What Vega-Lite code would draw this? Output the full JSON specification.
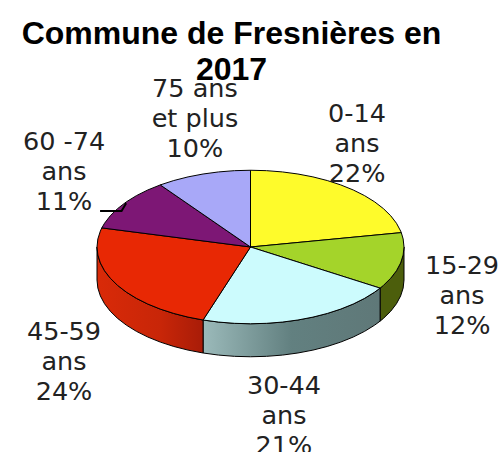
{"$schema":"https://vega.github.io/schema/vega-lite/v6.json","width":503,"height":452,"padding":0,"autosize":"none","background":"white","title":{"text":["Commune de Fresnières en","2017"],"font":"Liberation Sans","fontSize":32,"fontWeight":"bold","color":"#000000","anchor":"middle","baseline":"top","dx":-20,"dy":87,"lineHeight":36,"offset":0},"projection":{"type":"identity","reflectY":true,"scale":1.535,"translate":[250.5,247]},"layer":[
{"data":{"values":{"type":"FeatureCollection","features":[{"type":"Feature","properties":{"tranche":"15-29 ans"},"geometry":{"type":"Polygon","coordinates":[[[100,0],[99.45,-5.23],[97.81,-10.4],[95.11,-15.45],[91.35,-20.34],[86.6,-25],[84.43,-26.79],[84.43,-48.29],[86.6,-46.5],[91.35,-41.84],[95.11,-36.95],[97.81,-31.9],[99.45,-26.73],[100,-21.5],[100,0]]]}}]},"format":{"type":"json","property":"features"}},"mark":{"type":"geoshape","fill":"#4c5e0c","stroke":"#000000","strokeWidth":1}},
{"data":{"values":{"type":"FeatureCollection","features":[{"type":"Feature","properties":{"tranche":"30-44 ans"},"geometry":{"type":"Polygon","coordinates":[[[84.43,-26.79],[80.9,-29.39],[74.31,-33.46],[66.91,-37.16],[58.78,-40.45],[50,-43.3],[40.67,-45.68],[30.9,-47.55],[20.79,-48.91],[10.45,-49.73],[0,-50],[-10.45,-49.73],[-20.79,-48.91],[-30.9,-47.55],[-30.9,-69.05],[-20.79,-70.41],[-10.45,-71.23],[0,-71.5],[10.45,-71.23],[20.79,-70.41],[30.9,-69.05],[40.67,-67.18],[50,-64.8],[58.78,-61.95],[66.91,-58.66],[74.31,-54.96],[80.9,-50.89],[84.43,-48.29],[84.43,-26.79]]]}}]},"format":{"type":"json","property":"features"}},"mark":{"type":"geoshape","stroke":"#000000","strokeWidth":1,"fill":{"gradient":"linear","x1":0,"y1":0,"x2":1,"y2":0,"stops":[{"offset":0,"color":"#9bbaba"},{"offset":0.5,"color":"#628080"},{"offset":1,"color":"#5f7878"}]}}},
{"data":{"values":{"type":"FeatureCollection","features":[{"type":"Feature","properties":{"tranche":"45-59 ans"},"geometry":{"type":"Polygon","coordinates":[[[-30.9,-47.55],[-40.67,-45.68],[-50,-43.3],[-58.78,-40.45],[-66.91,-37.16],[-74.31,-33.46],[-80.9,-29.39],[-86.6,-25],[-91.35,-20.34],[-95.11,-15.45],[-97.81,-10.4],[-99.45,-5.23],[-100,0],[-100,-21.5],[-99.45,-26.73],[-97.81,-31.9],[-95.11,-36.95],[-91.35,-41.84],[-86.6,-46.5],[-80.9,-50.89],[-74.31,-54.96],[-66.91,-58.66],[-58.78,-61.95],[-50,-64.8],[-40.67,-67.18],[-30.9,-69.05],[-30.9,-47.55]]]}}]},"format":{"type":"json","property":"features"}},"mark":{"type":"geoshape","stroke":"#000000","strokeWidth":1,"fill":{"gradient":"linear","x1":0,"y1":0,"x2":1,"y2":0,"stops":[{"offset":0,"color":"#d92a08"},{"offset":0.6,"color":"#c82608"},{"offset":1,"color":"#a81c08"}]}}},
{"data":{"values":{"type":"FeatureCollection","features":[
{"type":"Feature","properties":{"tranche":"0-14 ans","part":22},"geometry":{"type":"Polygon","coordinates":[[[0,0],[0,50],[10.45,49.73],[20.79,48.91],[30.9,47.55],[40.67,45.68],[50,43.3],[58.78,40.45],[66.91,37.16],[74.31,33.46],[80.9,29.39],[86.6,25],[91.35,20.34],[95.11,15.45],[97.81,10.4],[98.23,9.37],[0,0]]]}},
{"type":"Feature","properties":{"tranche":"15-29 ans","part":12},"geometry":{"type":"Polygon","coordinates":[[[0,0],[98.23,9.37],[99.45,5.23],[100,0],[99.45,-5.23],[97.81,-10.4],[95.11,-15.45],[91.35,-20.34],[86.6,-25],[84.43,-26.79],[0,0]]]}},
{"type":"Feature","properties":{"tranche":"30-44 ans","part":21},"geometry":{"type":"Polygon","coordinates":[[[0,0],[84.43,-26.79],[80.9,-29.39],[74.31,-33.46],[66.91,-37.16],[58.78,-40.45],[50,-43.3],[40.67,-45.68],[30.9,-47.55],[20.79,-48.91],[10.45,-49.73],[0,-50],[-10.45,-49.73],[-20.79,-48.91],[-30.9,-47.55],[0,0]]]}},
{"type":"Feature","properties":{"tranche":"45-59 ans","part":24},"geometry":{"type":"Polygon","coordinates":[[[0,0],[-30.9,-47.55],[-40.67,-45.68],[-50,-43.3],[-58.78,-40.45],[-66.91,-37.16],[-74.31,-33.46],[-80.9,-29.39],[-86.6,-25],[-91.35,-20.34],[-95.11,-15.45],[-97.81,-10.4],[-99.45,-5.23],[-100,0],[-99.45,5.23],[-97.81,10.4],[-96.86,12.44],[0,0]]]}},
{"type":"Feature","properties":{"tranche":"60-74 ans","part":11},"geometry":{"type":"Polygon","coordinates":[[[0,0],[-96.86,12.44],[-95.11,15.45],[-91.35,20.34],[-86.6,25],[-80.9,29.39],[-74.31,33.46],[-66.91,37.16],[-58.78,40.45],[0,0]]]}},
{"type":"Feature","properties":{"tranche":"75 ans et plus","part":10},"geometry":{"type":"Polygon","coordinates":[[[0,0],[-58.78,40.45],[-50,43.3],[-40.67,45.68],[-30.9,47.55],[-20.79,48.91],[-10.45,49.73],[0,50],[0,0]]]}}
]},"format":{"type":"json","property":"features"}},"mark":{"type":"geoshape","stroke":"#000000","strokeWidth":1},"encoding":{"color":{"field":"properties.tranche","type":"nominal","legend":null,"scale":{"domain":["0-14 ans","15-29 ans","30-44 ans","45-59 ans","60-74 ans","75 ans et plus"],"range":["#fefb2b","#a4d42a","#ccfbfd","#e82804","#7d1775","#a8a8f8"]}}}},
{"data":{"values":{"type":"FeatureCollection","features":[{"type":"Feature","properties":{"tranche":"60-74 ans"},"geometry":{"type":"LineString","coordinates":[[-98,23.5],[-84,23.5],[-81,28.5]]}}]},"format":{"type":"json","property":"features"}},"mark":{"type":"geoshape","filled":false,"stroke":"#000000","strokeWidth":2}},
{"data":{"values":[{"tranche":"0-14","part":22,"label":"0-14|ans|22%","lon":69.4,"lat":86.7},{"tranche":"15-29","part":12,"label":"15-29|ans|12%","lon":137.8,"lat":-12.4},{"tranche":"30-44","part":21,"label":"30-44|ans|21%","lon":21.8,"lat":-90.5},{"tranche":"45-59","part":24,"label":"45-59|ans|24%","lon":-121.5,"lat":-55.4},{"tranche":"60-74","part":11,"label":"60 -74|ans|11%","lon":-121.5,"lat":68.4},{"tranche":"75+","part":10,"label":"75 ans|et plus|10%","lon":-36.2,"lat":102.9}]},"mark":{"type":"text","font":"DejaVu Sans","fontSize":25.5,"lineBreak":"|","lineHeight":30,"align":"center","baseline":"middle","color":"#222222"},"encoding":{"longitude":{"field":"lon","type":"quantitative"},"latitude":{"field":"lat","type":"quantitative"},"text":{"field":"label","type":"nominal"}}}
]}
